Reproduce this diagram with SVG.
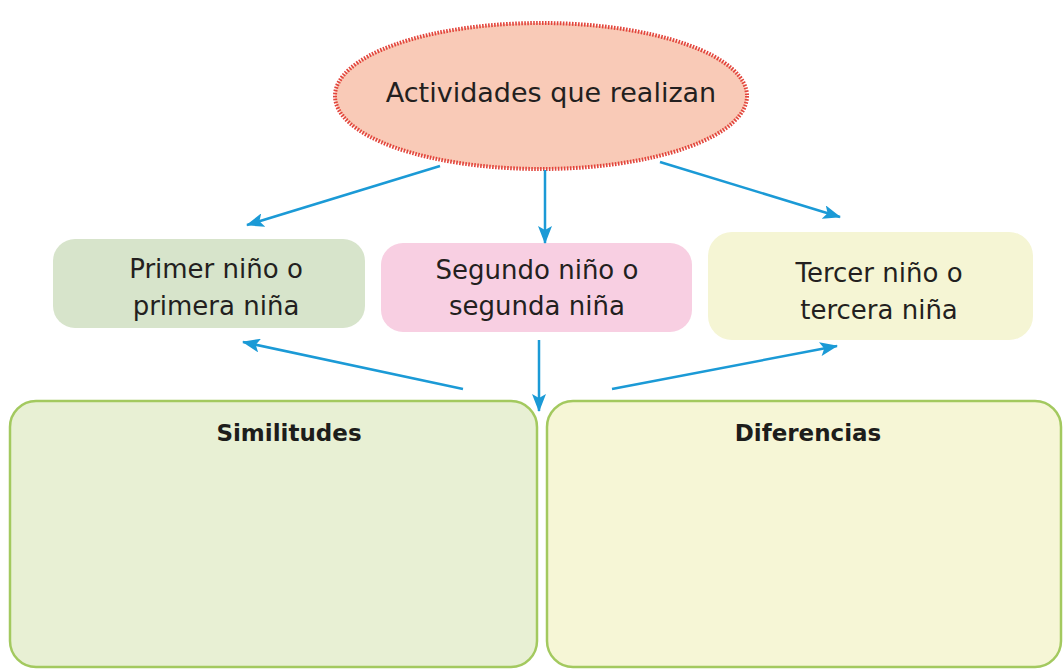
<svg xmlns="http://www.w3.org/2000/svg" width="1063" height="669" viewBox="0 0 1063 669">
<defs>
<style>
.t{font-family:"DejaVu Sans","Liberation Sans",sans-serif;font-size:26px;fill:#231f20;text-anchor:middle}
.h{font-family:"DejaVu Sans","Liberation Sans",sans-serif;font-size:23px;font-weight:bold;fill:#1d1d1b;text-anchor:middle}
.c{stroke:#1b9ad6;stroke-width:2.5;fill:none;marker-end:url(#ah)}
</style>
<marker id="ah" markerUnits="userSpaceOnUse" markerWidth="18" markerHeight="14" refX="17" refY="7" orient="auto">
<path d="M0,0 L18,7 L0,14 L4,7 Z" fill="#1b9ad6"/>
</marker>
</defs>
<rect width="1063" height="669" fill="#ffffff"/>
<g id="actividades">
<ellipse cx="541" cy="96" rx="206" ry="73" fill="#f9cab7" stroke="#e2453c" stroke-width="4" stroke-dasharray="1.6 1.4"/>
<text class="t" x="551" y="102" style="font-size:27px">Actividades que realizan</text>
</g>
<g id="primer">
<rect x="53" y="239" width="312" height="89" rx="22" fill="#d7e4cb"/>
<text class="t" x="216" y="278">Primer niño o</text>
<text class="t" x="216" y="315">primera niña</text>
</g>
<g id="segundo">
<rect x="381" y="243" width="311" height="89" rx="22" fill="#f8cfe2"/>
<text class="t" x="537" y="279">Segundo niño o</text>
<text class="t" x="537" y="315">segunda niña</text>
</g>
<g id="tercer">
<rect x="708" y="232" width="325" height="108" rx="24" fill="#f5f5d4"/>
<text class="t" x="879" y="282">Tercer niño o</text>
<text class="t" x="879" y="319">tercera niña</text>
</g>
<g id="similitudes">
<rect x="10" y="401" width="527" height="266" rx="26" fill="#e8f0d4" stroke="#a3c95f" stroke-width="2.5"/>
<text class="h" x="289" y="441">Similitudes</text>
</g>
<g id="diferencias">
<rect x="547" y="401" width="514" height="266" rx="26" fill="#f6f6d6" stroke="#a3c95f" stroke-width="2.5"/>
<text class="h" x="808" y="441">Diferencias</text>
</g>
<g id="connectors">
<line class="c" x1="440" y1="166" x2="247" y2="225"/>
<line class="c" x1="545" y1="170" x2="545" y2="243"/>
<line class="c" x1="660" y1="162" x2="840" y2="217"/>
<line class="c" x1="463" y1="389" x2="243" y2="342"/>
<line class="c" x1="539" y1="340" x2="539" y2="411"/>
<line class="c" x1="612" y1="389" x2="837" y2="346"/>
</g>
</svg>
